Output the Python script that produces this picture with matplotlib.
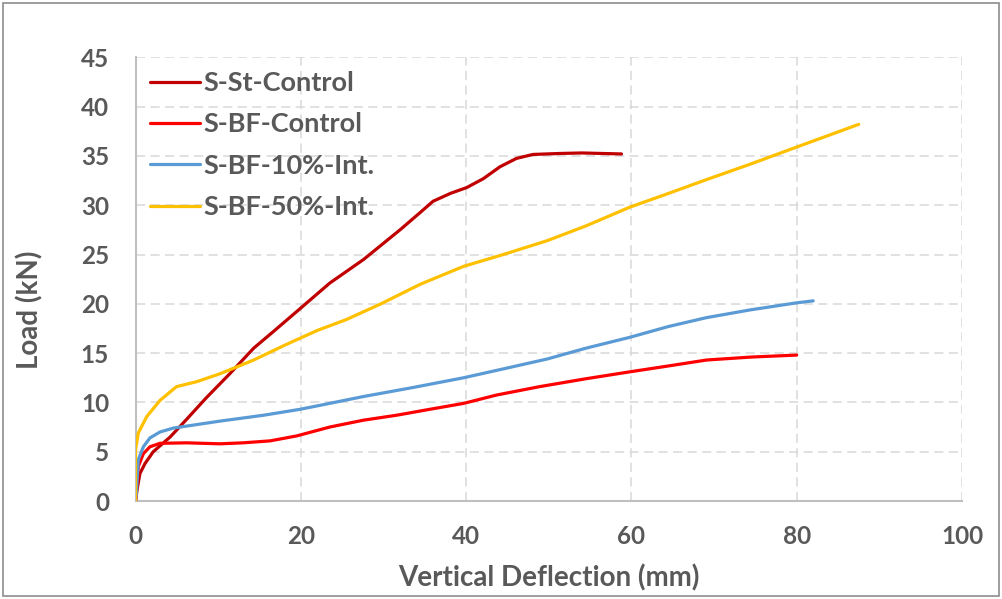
import matplotlib
matplotlib.use("Agg")
import matplotlib.pyplot as plt
from matplotlib.patches import Rectangle

# ---- data ----
st_control_x = [0, 0.2, 0.54, 1.15, 2.15, 4.2, 6.2, 8.6, 11.4, 14.3, 16.7, 19.9, 23.5, 27.6,
                32.0, 34.5, 36.0, 38.1, 40.1, 42.1, 44.1, 46.1, 48.1, 51.4, 54.0, 58.8]
st_control_y = [0, 1.2, 2.8, 3.8, 5.0, 6.5, 8.3, 10.5, 12.9, 15.5, 17.2, 19.5, 22.1, 24.5,
                27.5, 29.3, 30.4, 31.2, 31.8, 32.7, 33.9, 34.75, 35.15, 35.25, 35.3, 35.2]

bf_control_x = [0, 0.1, 0.34, 0.95, 1.75, 2.96, 6.2, 10.2, 13.0, 16.3, 19.5, 23.5, 27.6, 31.6,
                35.6, 39.7, 43.7, 48.9, 54.5, 59.8, 64.5, 69.1, 74.5, 80.0]
bf_control_y = [0, 0.8, 3.5, 4.8, 5.5, 5.85, 5.9, 5.8, 5.9, 6.1, 6.6, 7.5, 8.2, 8.7,
                9.3, 9.9, 10.75, 11.6, 12.4, 13.1, 13.7, 14.3, 14.6, 14.8]

bf10_x = [0, 0.1, 0.34, 0.95, 1.75, 2.96, 4.6, 7.0, 10.2, 15.5, 19.9, 22.3, 27.6, 33.5, 39.7,
          44.5, 49.8, 54.5, 59.8, 64.5, 69.1, 74.5, 80.0, 82.0]
bf10_y = [0, 0.8, 4.2, 5.5, 6.4, 7.0, 7.4, 7.7, 8.1, 8.7, 9.3, 9.7, 10.6, 11.5, 12.5,
          13.4, 14.4, 15.5, 16.6, 17.7, 18.6, 19.4, 20.1, 20.3]

bf50_x = [0, 0, 0.34, 1.35, 2.96, 4.96, 7.4, 10.2, 14.3, 18.3, 22.0, 25.5, 29.7, 34.5, 39.7,
          44.5, 49.8, 54.5, 59.8, 64.5, 69.1, 74.5, 80.0, 87.5]
bf50_y = [0, 5.2, 6.9, 8.55, 10.2, 11.6, 12.1, 12.9, 14.3, 15.9, 17.3, 18.4, 20.0, 22.0, 23.8,
          25.0, 26.4, 27.9, 29.8, 31.2, 32.6, 34.2, 35.9, 38.2]

series_names = ["S-St-Control", "S-BF-Control", "S-BF-10%-Int.", "S-BF-50%-Int."]
series_colors = ["#C00000", "#FF0000", "#5B9BD5", "#FFC000"]

x_ticks = [0, 20, 40, 60, 80, 100]
y_ticks = [0, 5, 10, 15, 20, 25, 30, 35, 40, 45]

FONT = "Lato"
TXT = "#595959"

fig = plt.figure(figsize=(10.03, 5.99), dpi=100)
fig.patches.append(Rectangle((0.003, 0.005), 0.993, 0.99, transform=fig.transFigure,
                             fill=False, edgecolor="#8C8C8C", linewidth=1.2))
ax = fig.add_axes([0.1351, 0.1636, 0.9591 - 0.1351, 0.9043 - 0.1636])

data = [(st_control_x, st_control_y), (bf_control_x, bf_control_y),
        (bf10_x, bf10_y), (bf50_x, bf50_y)]
for (xs, ys), name, c in zip(data, series_names, series_colors):
    ax.plot(xs, ys, color=c, lw=2.3, label=name, solid_joinstyle="round",
            solid_capstyle="round", zorder=3)

ax.set_xlim(0, 100)
ax.set_ylim(0, 45)
ax.set_xticks(x_ticks)
ax.set_yticks(y_ticks)
ax.grid(True, color="#D9D9D9", linestyle=(0, (6, 3.5)), linewidth=1.1, zorder=0)
ax.set_axisbelow(True)
for s in ["top", "right"]:
    ax.spines[s].set_visible(False)
for s in ["left", "bottom"]:
    ax.spines[s].set_color("#BFBFBF")
    ax.spines[s].set_linewidth(1.5)
ax.tick_params(axis="y", length=0, pad=19, labelsize=17.5, labelcolor=TXT)
ax.tick_params(axis="x", length=0, pad=17, labelsize=17.5, labelcolor=TXT)
for lab in ax.get_xticklabels() + ax.get_yticklabels():
    lab.set_fontfamily(FONT)
    lab.set_fontweight("bold")

ax.set_xlabel("Vertical Deflection (mm)", fontsize=20, fontweight="bold",
              color=TXT, family=FONT)
ax.set_ylabel("Load (kN)", fontsize=20, fontweight="bold", color=TXT, family=FONT)
ax.xaxis.set_label_coords(0.50, -0.1735)
ax.xaxis.label.set_va("center")
ax.yaxis.set_label_coords(-0.128, 0.43)
ax.yaxis.label.set_va("center")

leg = ax.legend(loc="upper left", bbox_to_anchor=(0.0175, 0.969), frameon=False,
                prop={"family": FONT, "weight": "bold", "size": 19.5},
                handlelength=1.85, handletextpad=0.12, labelspacing=0.64,
                borderaxespad=0.0, borderpad=0.0)
for t in leg.get_texts():
    t.set_color(TXT)

fig.savefig("out.png", dpi=100)
